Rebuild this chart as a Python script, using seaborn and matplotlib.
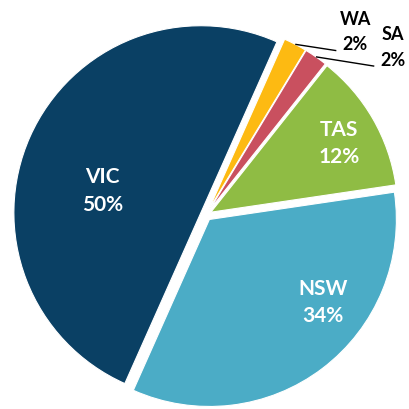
import matplotlib
matplotlib.use("Agg")
import matplotlib.pyplot as plt
import seaborn as sns
import numpy as np

## data
states = ["WA", "SA", "TAS", "NSW", "VIC"]
shares = [2, 2, 12, 34, 50]
colors = ["#FDBA12", "#C9505F", "#8FBC44", "#4BACC6", "#0A4064"]

sns.set_theme(style="white")
plt.rcParams["font.family"] = ["Lato", "DejaVu Sans"]

fig = plt.figure(figsize=(4.09, 4.10), dpi=100)
ax = fig.add_axes([0, 0, 1, 1])

wedges, _ = ax.pie(shares, colors=colors, startangle=66, counterclock=False,
                   explode=[0.03] * len(shares), radius=1.0,
                   wedgeprops=dict(edgecolor="white", linewidth=0.8))

# pixel framing: centre at (206, 216), radius 187 px
r_px, cx_px, cy_px = 187, 206, 216
ax.set_xlim(-cx_px / r_px, (409 - cx_px) / r_px)
ax.set_ylim(-(410 - cy_px) / r_px, cy_px / r_px)
ax.set_aspect("equal")
ax.axis("off")

# inside labels: (distance, angle offset from bisector)
inner = {"TAS": (0.78, -1.5), "NSW": (0.75, 17), "VIC": (0.54, 11)}
# outside labels with leader lines: label centre
outer = {"WA": (0.797, 0.984), "SA": (1.0, 0.901)}

for w, name, val in zip(wedges, states, shares):
    mid = (w.theta1 + w.theta2) / 2
    cx, cy = w.center
    if name in inner:
        d, off = inner[name]
        a = np.deg2rad(mid + off)
        ax.text(cx + d * np.cos(a), cy + d * np.sin(a), f"{name}\n{val}%",
                ha="center", va="center", color="white", fontsize=15,
                fontweight="bold", linespacing=1.45)
    else:
        a = np.deg2rad(mid)
        start = (cx + np.cos(a), cy + np.sin(a))
        tx, ty = outer[name]
        ax.plot([start[0], tx - 0.1], [start[1], ty - 0.105], color="black",
                lw=1.0, solid_capstyle="butt")
        ax.text(tx, ty, f"{name}\n{val}%", ha="center", va="center",
                color="black", fontsize=13, fontweight="bold", linespacing=1.6)

fig.savefig("out.png", dpi=100)
